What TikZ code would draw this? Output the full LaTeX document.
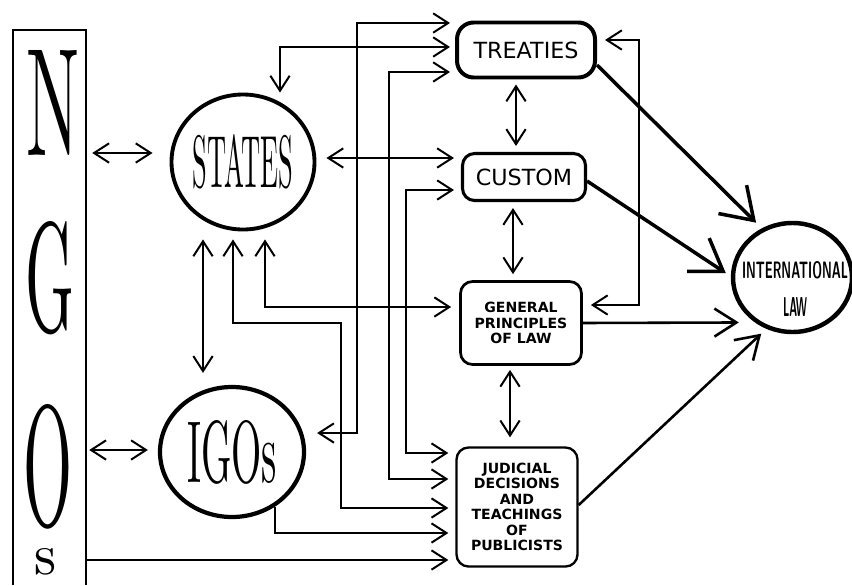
\documentclass[tikz,border=0pt]{standalone}
\usepackage{fontspec}
\usepackage{tikz}
\usetikzlibrary{arrows.meta, calc, shapes.geometric}
\newfontfamily\boxfont{DejaVu Sans}
\newlength{\pxu}
\setlength{\pxu}{0.03cm}

\begin{document}
\begin{tikzpicture}[x=0.03cm, y=-0.03cm,
	link/.style={line width=1.7pt, >={Straight Barb[length=0.45cm, width=0.58cm]}},
	feed/.style={line width=3pt, >={Straight Barb[length=0.9cm, width=1.2cm]}},
	feedthin/.style={line width=2.2pt, >={Straight Barb[length=0.66cm, width=0.84cm]}},
	actor/.style={ellipse, draw, line width=3.3pt, inner sep=0pt},
	letter/.style={inner sep=0pt},
	source/.style={draw, rectangle, rounded corners=0.36cm, inner sep=0pt, align=center,
		font=\boxfont\bfseries\fontsize{12}{13.2}\selectfont}]
	\useasboundingbox (0,0) rectangle (852,585);

	% NGO column
	\node[minimum width=73\pxu, minimum height=555\pxu, inner sep=0pt] (ngo) at (49.5,307.5) {};
	\draw[line width=1.7pt] (ngo.south west) |- (ngo.north east) -- (ngo.south east);
	\node[letter] (ngoN) at (53,103) {\resizebox{53\pxu}{105\pxu}{N}};
	\node[letter] (ngoG) at (50,278) {\resizebox{49\pxu}{110\pxu}{G}};
	\node[letter] (ngoO) at (48,467) {\resizebox{49\pxu}{121\pxu}{O}};
	\node[letter] (ngoS) at (46,562) {\resizebox{22\pxu}{26\pxu}{s}};

	% actors
	\node[actor, minimum width=143\pxu, minimum height=135\pxu] (states) at (243,162) {\resizebox{101\pxu}{53\pxu}{STATES}};
	\node[actor, line width=3.6pt, minimum width=144\pxu, minimum height=130\pxu] (igos) at (232,452) {\resizebox{90\pxu}{62\pxu}{IGOs}};

	% sources
	\node[source, line width=3.4pt, rounded corners=0.5cm, minimum width=138\pxu, minimum height=55\pxu,
		font=\boxfont\fontsize{19}{22}\selectfont] (treaties) at (526,50) {TREATIES};
	\node[source, line width=2.6pt, minimum width=123\pxu, minimum height=47\pxu,
		font=\boxfont\fontsize{19}{22}\selectfont] (custom) at (524,177) {CUSTOM};
	\node[source, line width=2.3pt, minimum width=121\pxu, minimum height=83\pxu] (principles) at (521,323) {GENERAL\\PRINCIPLES\\OF LAW};
	\node[source, line width=2pt, minimum width=121\pxu, minimum height=119\pxu] (judicial) at (517,507) {JUDICIAL\\DECISIONS\\AND\\TEACHINGS\\OF\\PUBLICISTS};

	% result
	\node[actor, line width=3.8pt, minimum width=119\pxu, minimum height=109\pxu] (intlaw) at (792.5,277.5) {};
	\node[align=center, inner sep=0pt, font=\sffamily\bfseries\fontsize{10}{10}\selectfont] (intlawtext) at (795,289)
		{\resizebox{106\pxu}{17\pxu}{INTERNATIONAL}\\[18\pxu]\resizebox{24\pxu}{19\pxu}{LAW}};

	% NGO links
	\draw[link, <->, shorten <=6\pxu, shorten >=17\pxu] (ngo.east |- 0,153) -- (states.west |- 0,153);
	\draw[link, <->, shorten <=3\pxu, shorten >=10\pxu] (ngo.east |- 0,450) -- (igos.west |- 0,450);
	\draw[link, ->, shorten >=7\pxu] (ngo.east |- 0,560) -- (judicial.west |- 0,560);

	% states and IGOs to the sources
	\draw[link, <->, shorten <=8\pxu, shorten >=12\pxu] (states.south -| 203,0) -- (igos.north -| 203,0);
	\draw[link, <->, shorten <=8\pxu, shorten >=8\pxu] (states.south -| 265,0) |- (principles.west |- 0,307);
	\draw[link, <->, shorten <=8\pxu, shorten >=7\pxu] (states.south -| 233,0) |- (341,323) |- (judicial.west |- 0,508);
	\draw[link, ->, shorten >=7\pxu] (igos.-52) |- (judicial.west |- 0,533);
	\draw[link, <->, shorten >=5\pxu] (states.north -| 280,0) |- (treaties.west |- 0,47);
	\draw[link, <->, shorten <=11\pxu, shorten >=5\pxu] (igos.east |- 0,433) -| (357,23) -- (treaties.west |- 0,23);
	\draw[link, <->, shorten <=10\pxu, shorten >=7\pxu] (states.east |- 0,158) -- (custom.west |- 0,158);

	% between the sources
	\draw[link, <->, shorten <=5\pxu, shorten >=7\pxu] (treaties.west |- 0,72) -| (389,479) -- (judicial.west |- 0,479);
	\draw[link, <->, shorten <=7\pxu, shorten >=7\pxu] (custom.west |- 0,190) -| (406,453) -- (judicial.west |- 0,453);
	\draw[link, <->, shorten <=5\pxu, shorten >=6\pxu] (treaties.south -| 516,0) -- (custom.north -| 516,0);
	\draw[link, <->, shorten <=6\pxu, shorten >=6\pxu] (custom.south -| 513,0) -- (principles.north -| 513,0);
	\draw[link, <->, shorten <=4\pxu, shorten >=9\pxu] (principles.south -| 510,0) -- (judicial.north -| 510,0);
	\draw[link, <->, shorten <=8\pxu, shorten >=8\pxu] (treaties.east |- 0,40) -| (639,305) -- (principles.east |- 0,305);

	% into international law
	\draw[feed, ->, shorten >=8\pxu] (treaties.east |- 0,65) -- (intlaw.122);
	\draw[feed, ->, shorten >=6\pxu] (custom.east |- 0,181) -- (intlaw.179);
	\draw[feedthin, ->, shorten >=16\pxu] (principles.east |- 0,323) -- (intlaw.230);
	\draw[feedthin, ->, shorten >=7\pxu] (judicial.east |- 0,505) -- (intlaw.243);
\end{tikzpicture}
\end{document}
